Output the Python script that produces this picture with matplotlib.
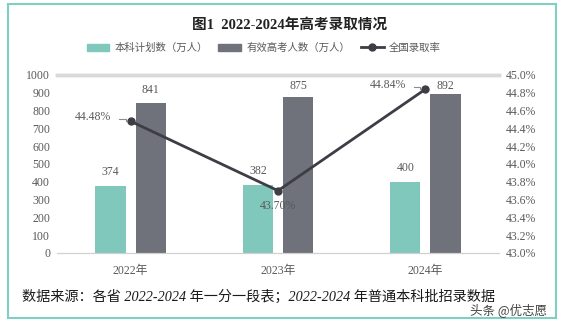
import numpy as np
import matplotlib.pyplot as plt
from matplotlib.patches import Rectangle
from matplotlib.lines import Line2D
from matplotlib.patches import Patch

plt.rcParams['font.family'] = ['Liberation Serif', 'Noto Sans CJK SC']

years = ["2022年", "2023年", "2024年"]
plan = [374, 382, 400]          # 本科计划数（万人）
examinees = [841, 875, 892]     # 有效高考人数（万人）
rate = [44.48, 43.70, 44.84]    # 全国录取率 (%)

teal = "#80c8bc"
grey = "#6f717b"
dark = "#3d3d45"
txt = "#595959"

fig = plt.figure(figsize=(5.61, 3.26), dpi=100)
ax = fig.add_axes([0.1016, 0.224, 0.788, 0.546])
ax2 = ax.twinx()

x = np.arange(len(years))
w = 0.205
gap = 0.034
ax.bar(x - w / 2 - gap, plan, width=w, color=teal, zorder=2)
ax.bar(x + w / 2 + gap, examinees, width=w, color=grey, zorder=2)

for xi, v in zip(x, plan):
    ax.text(xi - w / 2 - gap, v + 80, f"{v}", ha="center", va="center",
            fontsize=8.5, color=txt)
# labels on the tall bars are kept below the top of the plot area
for xi, v in zip(x, examinees):
    ax.text(xi + w / 2 + gap, min(v + 75, 940), f"{v}", ha="center",
            va="center", fontsize=8.5, color=txt)

ax.set_xlim(-0.5, len(years) - 0.5)
ax.set_ylim(0, 1000)
ax.set_yticks(np.arange(0, 1001, 100))
ax.set_xticks(x)
ax.set_xticklabels(years)

ax2.plot(x, rate, color=dark, lw=2, marker="o", ms=5, zorder=5)
ax2.set_ylim(43.0, 45.0)
ax2.set_yticks(np.arange(43.0, 45.01, 0.2))
ax2.set_yticklabels([f"{t:.1f}%" for t in np.arange(43.0, 45.01, 0.2)])

# rate labels: left of the 2022/2024 points with a short leader, below for 2023
for i in (0, 2):
    ax2.annotate(f"{rate[i]:.2f}%", xy=(x[i], rate[i]), xytext=(-14, 3),
                 textcoords="offset points", ha="right", va="center",
                 fontsize=8.5, color=txt)
    ax2.plot([x[i] - 0.08, x[i] - 0.035, x[i] - 0.035],
             [rate[i] + 0.03, rate[i] + 0.03, rate[i]],
             color="#8c8c8c", lw=0.8, zorder=4)
ax2.annotate(f"{rate[1]:.2f}%", xy=(x[1], rate[1]), xytext=(0, -7),
             textcoords="offset points", ha="center", va="top",
             fontsize=8.5, color=txt)

for a in (ax, ax2):
    for s in ("left", "right"):
        a.spines[s].set_visible(False)
    a.spines["top"].set_color("#d9d9d9")
    a.spines["top"].set_linewidth(2.5)
    a.spines["bottom"].set_color("#d0d0d0")
    a.tick_params(length=0, labelsize=8.5, colors=txt)
ax.tick_params(axis="x", pad=9)
ax.tick_params(axis="y", pad=5)
ax2.tick_params(axis="y", pad=5)

fig.text(0.517, 0.923, "图1  2022-2024年高考录取情况", ha="center", va="center",
         fontsize=10.5, fontweight="bold", color="#222222")

handles = [Patch(color=teal), Patch(color=grey),
           Line2D([0], [0], color=dark, lw=2, marker="o", ms=5)]
labels = ["本科计划数（万人）", "有效高考人数（万人）", "全国录取率"]
fig.legend(handles, labels, loc="center", bbox_to_anchor=(0.47, 0.853), ncol=3,
           frameon=False, fontsize=7.5, handlelength=2.2, handleheight=0.7,
           columnspacing=1.0, handletextpad=0.5, labelcolor=txt)

fig.text(0.04, 0.089, "数据来源：各省 2022-2024 年一分一段表；2022-2024 年普通本科批招录数据",
         ha="left", va="center", fontsize=10.2, style="italic", color="#1a1a1a")
fig.text(0.975, 0.045, "头条 @优志愿", ha="right", va="center", fontsize=9,
         color="#444444", family=["Noto Sans CJK SC"])

fig.patches.append(Rectangle((8 / 561, 1 - 318 / 326), 548 / 561, 314 / 326,
                             transform=fig.transFigure, fill=False,
                             edgecolor="#7fd0c2", lw=1.5))

fig.savefig("out.png", dpi=100)
